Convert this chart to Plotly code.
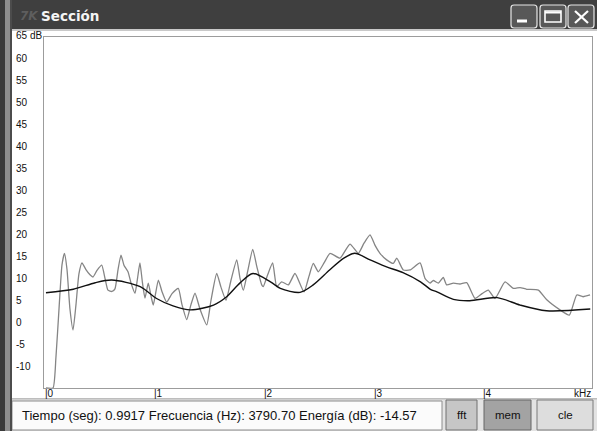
import plotly.graph_objects as go

# ---------------------------------------------------------------- data
# FFT spectrum of the selected frame (kHz, dB)
fft_freq_khz = [0.000, 0.064, 0.091, 0.119, 0.146, 0.169, 0.192, 0.219, 0.247, 0.274,
                0.301, 0.329, 0.365, 0.402, 0.429, 0.466, 0.509, 0.539, 0.566, 0.603,
                0.630, 0.658, 0.685, 0.712, 0.749, 0.776, 0.813, 0.836, 0.858, 0.881,
                0.904, 0.934, 0.959, 0.980, 1.026, 1.059, 1.102, 1.151, 1.208, 1.242,
                1.285, 1.324, 1.361, 1.406, 1.468, 1.507, 1.559, 1.598, 1.644, 1.689,
                1.742, 1.772, 1.802, 1.845, 1.888, 1.927, 1.970, 1.984, 2.027, 2.070,
                2.107, 2.152, 2.213, 2.274, 2.356, 2.402, 2.441, 2.487, 2.539, 2.594,
                2.685, 2.776, 2.852, 2.904, 2.959, 3.005, 3.050, 3.111, 3.172, 3.203,
                3.263, 3.324, 3.416, 3.461, 3.507, 3.537, 3.583, 3.628, 3.659, 3.720,
                3.781, 3.842, 3.918, 3.982, 4.039, 4.100, 4.192, 4.268, 4.329, 4.390,
                4.496, 4.573, 4.694, 4.779, 4.847, 4.904, 4.968]
fft_db = [-15.0, -15.0, -8.0, 3.0, 13.0, 15.7, 12.0, 3.0, -1.8, 4.0,
          11.0, 13.5, 12.0, 10.8, 10.3, 11.8, 13.0, 10.0, 7.3, 7.0,
          7.6, 12.0, 15.3, 13.0, 11.5, 9.0, 6.6, 10.0, 13.5, 9.0,
          5.5, 8.9, 6.0, 3.9, 9.6, 7.0, 4.6, 6.5, 7.7, 4.0,
          0.6, 4.0, 6.6, 3.0, -0.6, 5.0, 11.1, 8.0, 5.0, 9.5,
          14.2, 10.0, 7.3, 12.0, 16.6, 12.5, 8.5, 8.1, 11.0, 13.5,
          8.1, 9.2, 8.5, 11.1, 6.9, 10.5, 13.4, 11.5, 13.5, 15.7,
          14.6, 17.8, 15.7, 18.0, 19.9, 17.5, 15.7, 14.2, 13.4, 14.6,
          11.9, 11.9, 13.5, 10.0, 8.9, 9.5, 8.9, 10.2, 8.5, 8.9,
          8.7, 9.0, 5.4, 6.5, 7.3, 5.4, 9.2, 7.7, 7.9, 7.5,
          7.3, 5.1, 2.8, 1.6, 6.2, 5.8, 6.2]

# MEM (all-pole) spectral envelope (kHz, dB)
mem_freq_khz = [0.00, 0.25, 0.45, 0.60, 0.86, 1.01, 1.16, 1.32, 1.53, 1.65,
                1.77, 1.89, 2.05, 2.14, 2.32, 2.44, 2.59, 2.72, 2.82, 2.96,
                3.11, 3.26, 3.42, 3.51, 3.57, 3.72, 3.87, 4.12, 4.33, 4.57, 4.97]
mem_db = [6.7, 7.5, 9.0, 9.6, 8.1, 5.4, 3.7, 2.8, 3.9, 5.8,
          8.9, 11.1, 9.2, 7.7, 6.8, 8.5, 11.9, 14.6, 15.7, 14.2,
          12.6, 11.3, 9.2, 7.5, 6.9, 5.2, 4.9, 5.6, 3.9, 2.6, 3.0]

y_tick_values = [60, 55, 50, 45, 40, 35, 30, 25, 20, 15, 10, 5, 0, -5, -10]
x_tick_values = [0, 1, 2, 3, 4]

window_title = "Sección"
status_text = "Tiempo (seg): 0.9917 Frecuencia (Hz): 3790.70 Energía (dB): -14.57"
button_labels = ["fft", "mem", "cle"]

# ---------------------------------------------------------------- helpers
W, H = 597, 431


def X(px):
    return px / W


def Y(py):
    return 1 - py / H


def rect(x0, y0, x1, y1, fill, line=None, lw=1, layer="below"):
    return dict(type="rect", xref="paper", yref="paper", layer=layer,
                x0=X(x0), x1=X(x1), y0=Y(y1), y1=Y(y0), fillcolor=fill,
                line=dict(color=line or fill, width=lw if line else 0))


def round_rect(x0, y0, x1, y1, r, fill, line, lw=1.2):
    a, b, c, d = X(x0), X(x1), Y(y0), Y(y1)
    rx, ry = r / W, r / H
    path = (f"M {a+rx},{c} L {b-rx},{c} Q {b},{c} {b},{c-ry} L {b},{d+ry} "
            f"Q {b},{d} {b-rx},{d} L {a+rx},{d} Q {a},{d} {a},{d+ry} "
            f"L {a},{c-ry} Q {a},{c} {a+rx},{c} Z")
    return dict(type="path", xref="paper", yref="paper", path=path,
                fillcolor=fill, line=dict(color=line, width=lw), layer="above")


def seg(x0, y0, x1, y1, color, w):
    return dict(type="line", xref="paper", yref="paper", x0=X(x0), x1=X(x1),
                y0=Y(y0), y1=Y(y1), line=dict(color=color, width=w), layer="above")


# ---------------------------------------------------------------- figure
fig = go.Figure()
fig.add_trace(go.Scatter(x=fft_freq_khz, y=fft_db, mode="lines",
                         line=dict(color="#858585", width=1.3, shape="spline",
                                   smoothing=0.5), hoverinfo="skip"))
fig.add_trace(go.Scatter(x=mem_freq_khz, y=mem_db, mode="lines",
                         line=dict(color="#111111", width=1.4, shape="spline",
                                   smoothing=0.8), hoverinfo="skip"))

ax_style = dict(showgrid=False, zeroline=False, showticklabels=False, ticks="",
                showline=True, mirror=True, linecolor="#9c9c9c", linewidth=1,
                fixedrange=True)

shapes = [
    # window chrome
    rect(0, 0, 597, 29, "#3f3f3f"),
    rect(0, 29, 597, 31, "#c9c9c9"),
    rect(12, 398, 597, 431, "#e3e3e3"),
    rect(12, 398, 597, 399.5, "#bdbdbd"),
    rect(12, 401, 442, 430, "#fbfbfb", "#8c8c8c", 1),
    rect(446, 400, 477, 430, "#c6c6c6", "#707070", 1),
    rect(484, 400, 531, 430, "#a3a3a3", "#666666", 1),
    rect(537, 400, 593, 430, "#dddddd", "#7a7a7a", 1),
    rect(0, 0, 5, 431, "#3a3a3a"),
    rect(5, 0, 10, 431, "#8e8e8e"),
    rect(10, 0, 12, 431, "#4c4c4c"),
    # title bar buttons
    round_rect(511, 5, 537, 28, 3, "#585858", "#e6e6e6"),
    round_rect(540, 5, 566, 28, 3, "#585858", "#e6e6e6"),
    round_rect(568, 5, 594, 28, 3, "#585858", "#e6e6e6"),
    rect(517, 19.5, 527, 22.5, "#ffffff", layer="above"),
    seg(575, 11, 588, 23, "#ffffff", 2.2),
    seg(575, 23, 588, 11, "#ffffff", 2.2),
    dict(type="rect", xref="paper", yref="paper", layer="above",
         x0=X(545), x1=X(561), y0=Y(22), y1=Y(11), fillcolor="rgba(0,0,0,0)",
         line=dict(color="#ffffff", width=1.6)),
    seg(545, 12.5, 561, 12.5, "#ffffff", 2),
]

tick_font = dict(family="Liberation Sans, Arial, sans-serif", size=10, color="#111111")
annotations = []
for v in y_tick_values:
    annotations.append(dict(x=X(14), xref="paper", y=v, yref="y", text=str(v),
                            xanchor="left", yanchor="middle", showarrow=False,
                            font=tick_font))
annotations.append(dict(x=X(14), xref="paper", y=65, yref="y", text="65 dB",
                        xanchor="left", yanchor="middle", yshift=2, showarrow=False,
                        font=tick_font))
for v in x_tick_values:
    annotations.append(dict(x=v, xref="x", y=Y(393), yref="paper", text=f"|{v}",
                            xanchor="left", yanchor="middle", xshift=-3,
                            showarrow=False, font=tick_font))
annotations.append(dict(x=X(593), xref="paper", y=Y(393), yref="paper", text="kHz",
                        xanchor="right", yanchor="middle", showarrow=False,
                        font=tick_font))
# title bar
annotations.append(dict(x=X(18), xref="paper", y=Y(15.5), yref="paper", text="<i><b>7K</b></i>",
                        xanchor="left", yanchor="middle", showarrow=False,
                        font=dict(family="DejaVu Sans", size=12, color="#5e5e5e")))
annotations.append(dict(x=X(39), xref="paper", y=Y(16), yref="paper",
                        text=f"<b>{window_title}</b>", xanchor="left", yanchor="middle",
                        showarrow=False,
                        font=dict(family="DejaVu Sans", size=13.5, color="#f4f4f4")))
# status bar
annotations.append(dict(x=X(20), xref="paper", y=Y(415), yref="paper", text=status_text,
                        xanchor="left", yanchor="middle", showarrow=False,
                        font=dict(family="Liberation Sans, Arial, sans-serif", size=13,
                                  color="#111111")))
for label, cx in zip(button_labels, [461.5, 507.5, 565]):
    annotations.append(dict(x=X(cx), xref="paper", y=Y(415), yref="paper", text=label,
                            xanchor="center", yanchor="middle", showarrow=False,
                            font=dict(family="Liberation Sans, Arial, sans-serif",
                                      size=11.5, color="#111111")))

fig.update_layout(
    width=W, height=H, margin=dict(l=0, r=0, t=0, b=0, pad=0),
    paper_bgcolor="#ffffff", plot_bgcolor="rgba(0,0,0,0)",
    showlegend=False,
    xaxis=dict(domain=[X(44), X(592)], range=[-0.018, 4.986], **ax_style),
    yaxis=dict(domain=[Y(388), Y(37)], range=[-15, 65], **ax_style),
    shapes=shapes, annotations=annotations,
)

fig.write_html("out.html", config=dict(displayModeBar=False, staticPlot=True))
